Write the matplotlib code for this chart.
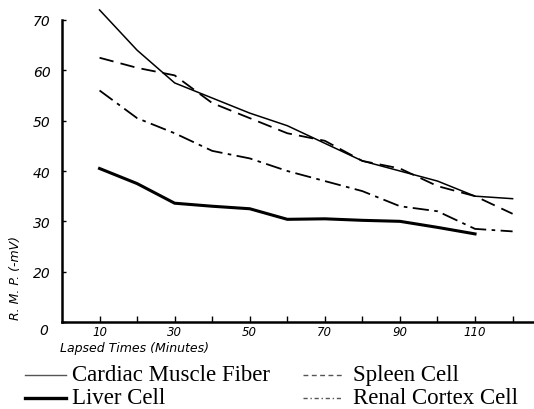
import matplotlib.pyplot as plt
from matplotlib.lines import Line2D

# lapsed time (minutes) and resting membrane potential (-mV)
minutes = [10, 20, 30, 40, 50, 60, 70, 80, 90, 100, 110, 120]
cardiac = [72, 64, 57.5, 54.5, 51.5, 49, 45.5, 42, 40, 38, 35, 34.5]
spleen = [62.5, 60.5, 59, 53.5, 50.5, 47.5, 46, 42, 40.5, 37, 35, 31.5]
renal = [56, 50.5, 47.5, 44, 42.5, 40, 38, 36, 33, 32, 28.5, 28]
liver_minutes = [10, 20, 30, 40, 50, 60, 70, 80, 90, 100, 110]
liver = [40.5, 37.5, 33.6, 33, 32.5, 30.4, 30.5, 30.2, 30, 28.8, 27.5]

x_major = [10, 30, 50, 70, 90, 110]
x_minor = [20, 40, 60, 80, 100, 120]
y_ticks = [10, 20, 30, 40, 50, 60, 70]
y_labels = ["", "20", "30", "40", "50", "60", "70"]

hand = dict(family="DejaVu Sans", style="italic")

fig = plt.figure(figsize=(5.34, 4.10), dpi=100)
ax = fig.add_axes([62 / 534, 1 - 323 / 410, 1 - 62 / 534, (323 - 21) / 410])

ax.plot(minutes, cardiac, color="black", lw=1.1, clip_on=False)
ax.plot(minutes, spleen, color="black", lw=1.3, dashes=(8, 4))
ax.plot(minutes, renal, color="black", lw=1.3, dashes=(9, 3, 2, 3))
ax.plot(liver_minutes, liver, color="black", lw=2.2)

ax.set_xlim(0, 125.7)
ax.set_ylim(10, 70)
ax.spines["top"].set_visible(False)
ax.spines["right"].set_visible(False)
ax.spines["left"].set_linewidth(1.8)
ax.spines["bottom"].set_linewidth(1.8)

ax.set_xticks(x_major)
ax.set_xticklabels([str(v) for v in x_major], fontsize=8.5, **hand)
ax.set_xticks(x_minor, minor=True)
ax.tick_params(axis="x", which="both", direction="in", length=4, width=1, pad=2)
ax.set_yticks(y_ticks)
ax.set_yticklabels(y_labels, fontsize=10, **hand)
ax.tick_params(axis="y", direction="in", length=3, width=1, pad=8)

fig.text(44 / 534, 1 - 331 / 410, "0", fontsize=10, ha="center", va="center", **hand)
fig.text(16 / 534, 1 - 278 / 410, "R. M. P. (-mV)", rotation=90, fontsize=9,
         ha="center", va="center", **hand)
fig.text(60 / 534, 1 - 349 / 410, "Lapsed Times (Minutes)", fontsize=9,
         ha="left", va="center", **hand)

# legend drawn below the axes
serif = dict(family="Liberation Serif", fontsize=16.5, va="center", ha="left")
rows = [1 - 376 / 410, 1 - 399 / 410]
entries = [
    (25, 66, rows[0], dict(color="#555555", lw=1.0), "Cardiac Muscle Fiber", 72),
    (25, 66, rows[1], dict(color="black", lw=2.4), "Liver Cell", 72),
    (303, 343, rows[0], dict(color="#555555", lw=1.0, dashes=(3.5, 2.5)), "Spleen Cell", 353),
    (303, 343, rows[1], dict(color="#555555", lw=1.0, dashes=(3, 2, 1, 2)), "Renal Cortex Cell", 353),
]
for x0, x1, yy, style, label, tx in entries:
    fig.add_artist(Line2D([x0 / 534, x1 / 534], [yy, yy], transform=fig.transFigure, **style))
    fig.text(tx / 534, yy, label, **serif)

fig.savefig("out.png", dpi=100)
